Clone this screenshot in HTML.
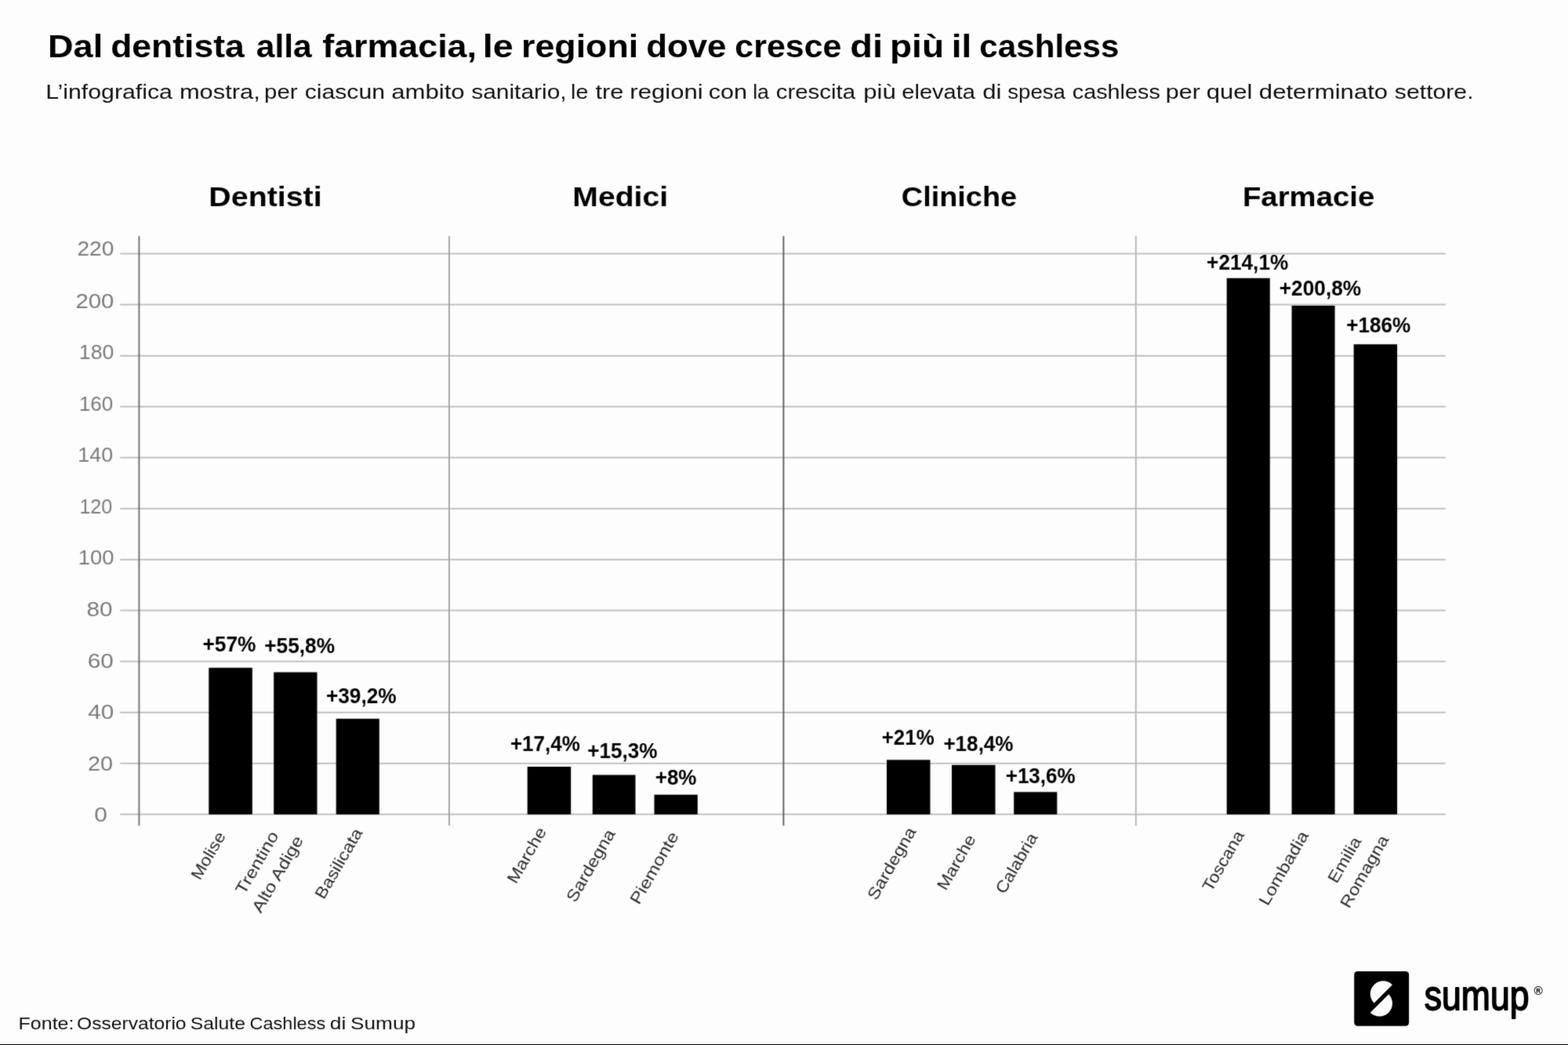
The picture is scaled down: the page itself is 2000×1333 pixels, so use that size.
<!DOCTYPE html>
<html lang="it">
<head>
<meta charset="utf-8">
<title>Dal dentista alla farmacia, le regioni dove cresce di più il cashless</title>
<style>
html,body{margin:0;padding:0;background:#fdfdfd;}
body{width:2000px;height:1333px;overflow:hidden;font-family:'Liberation Sans', Arial, Helvetica, sans-serif;}
svg{display:block;position:absolute;left:0;top:0;font-family:'Liberation Sans', Arial, Helvetica, sans-serif;}
text{white-space:pre;}
</style>
</head>
<body>
<svg width="2000" height="1333" viewBox="0 0 2000 1333" role="img" aria-label="Grafico a barre: crescita della spesa cashless per ambito sanitario e regione">
<rect x="0" y="0" width="2000" height="1333" fill="#fdfdfd"/>
<defs><filter id="soft" filterUnits="userSpaceOnUse" x="0" y="0" width="2000" height="1333" color-interpolation-filters="sRGB"><feConvolveMatrix order="3" kernelMatrix="0.0225 0.1050 0.0225 0.1050 0.4900 0.1050 0.0225 0.1050 0.0225" divisor="1" edgeMode="duplicate" preserveAlpha="false"/></filter><filter id="crisp" filterUnits="userSpaceOnUse" x="0" y="0" width="2000" height="1333" color-interpolation-filters="sRGB"><feConvolveMatrix order="3" kernelMatrix="0.0100 0.0800 0.0100 0.0800 0.6400 0.0800 0.0100 0.0800 0.0100" divisor="1" edgeMode="duplicate" preserveAlpha="false"/></filter></defs>
<g id="chart" filter="url(#soft)">
<g id="grid" fill="#bbbbbb">
<rect x="153.2" y="322.70" width="1690.6" height="1.8"/>
<rect x="153.2" y="387.70" width="1690.6" height="1.8"/>
<rect x="153.2" y="453.00" width="1690.6" height="1.8"/>
<rect x="153.2" y="517.80" width="1690.6" height="1.8"/>
<rect x="153.2" y="582.80" width="1690.6" height="1.8"/>
<rect x="153.2" y="647.90" width="1690.6" height="1.8"/>
<rect x="153.2" y="712.90" width="1690.6" height="1.8"/>
<rect x="153.2" y="777.70" width="1690.6" height="1.8"/>
<rect x="153.2" y="842.80" width="1690.6" height="1.8"/>
<rect x="153.2" y="907.90" width="1690.6" height="1.8"/>
<rect x="153.2" y="972.90" width="1690.6" height="1.8"/>
<rect x="153.2" y="1037.80" width="1690.6" height="1.8"/>
</g>
<g id="axes">
<rect x="176.50" y="301.2" width="1.8" height="752.0" fill="#686868"/>
<rect x="572.00" y="301.2" width="1.8" height="752.0" fill="#9e9e9e"/>
<rect x="998.50" y="301.2" width="1.8" height="752.0" fill="#565656"/>
<rect x="1447.90" y="301.2" width="1.8" height="752.0" fill="#b4b4b4"/>
</g>
<g id="ylabels">
<text x="98.49" y="325.85" font-size="25.4" font-weight="normal" fill="#7a7a7a" textLength="46.91" lengthAdjust="spacingAndGlyphs">220</text>
<text x="96.53" y="393.05" font-size="25.4" font-weight="normal" fill="#7a7a7a" textLength="48.92" lengthAdjust="spacingAndGlyphs">200</text>
<text x="100.87" y="458.35" font-size="25.4" font-weight="normal" fill="#7a7a7a" textLength="44.47" lengthAdjust="spacingAndGlyphs">180</text>
<text x="100.92" y="523.55" font-size="25.4" font-weight="normal" fill="#7a7a7a" textLength="43.29" lengthAdjust="spacingAndGlyphs">160</text>
<text x="99.35" y="589.45" font-size="25.4" font-weight="normal" fill="#7a7a7a" textLength="44.79" lengthAdjust="spacingAndGlyphs">140</text>
<text x="101.38" y="655.05" font-size="25.4" font-weight="normal" fill="#7a7a7a" textLength="42.00" lengthAdjust="spacingAndGlyphs">120</text>
<text x="99.72" y="720.35" font-size="25.4" font-weight="normal" fill="#7a7a7a" textLength="45.65" lengthAdjust="spacingAndGlyphs">100</text>
<text x="110.41" y="785.85" font-size="25.4" font-weight="normal" fill="#7a7a7a" textLength="33.05" lengthAdjust="spacingAndGlyphs">80</text>
<text x="111.70" y="851.55" font-size="25.4" font-weight="normal" fill="#7a7a7a" textLength="33.05" lengthAdjust="spacingAndGlyphs">60</text>
<text x="112.21" y="916.95" font-size="25.4" font-weight="normal" fill="#7a7a7a" textLength="33.05" lengthAdjust="spacingAndGlyphs">40</text>
<text x="111.95" y="982.55" font-size="25.4" font-weight="normal" fill="#7a7a7a" textLength="31.97" lengthAdjust="spacingAndGlyphs">20</text>
<text x="120.24" y="1047.85" font-size="25.4" font-weight="normal" fill="#7a7a7a" textLength="16.53" lengthAdjust="spacingAndGlyphs">0</text>
</g>
<g id="bars" fill="#000">
<rect x="266.3" y="851.8" width="55.5" height="187.0"/>
<rect x="349.2" y="857.5" width="55.3" height="181.3"/>
<rect x="428.7" y="916.8" width="55.1" height="122.0"/>
<rect x="672.7" y="978.0" width="55.5" height="60.8"/>
<rect x="755.8" y="988.5" width="54.7" height="50.3"/>
<rect x="834.5" y="1013.7" width="55.3" height="25.1"/>
<rect x="1131.0" y="969.3" width="55.5" height="69.5"/>
<rect x="1214.0" y="975.8" width="55.5" height="63.0"/>
<rect x="1293.2" y="1010.3" width="55.1" height="28.5"/>
<rect x="1564.7" y="354.8" width="55.1" height="684.0"/>
<rect x="1647.6" y="389.9" width="55.0" height="648.9"/>
<rect x="1726.7" y="439.2" width="55.4" height="599.6"/>
</g>
<g id="values">
<text x="258.39" y="831.45" font-size="26.8" font-weight="bold" fill="#000" textLength="68.10" lengthAdjust="spacingAndGlyphs">+57%</text>
<text x="337.20" y="833.35" font-size="26.8" font-weight="bold" fill="#000" textLength="89.80" lengthAdjust="spacingAndGlyphs">+55,8%</text>
<text x="415.90" y="896.95" font-size="26.8" font-weight="bold" fill="#000" textLength="89.80" lengthAdjust="spacingAndGlyphs">+39,2%</text>
<text x="650.91" y="957.85" font-size="26.8" font-weight="bold" fill="#000" textLength="89.08" lengthAdjust="spacingAndGlyphs">+17,4%</text>
<text x="749.20" y="967.35" font-size="26.8" font-weight="bold" fill="#000" textLength="89.28" lengthAdjust="spacingAndGlyphs">+15,3%</text>
<text x="835.71" y="1000.95" font-size="26.8" font-weight="bold" fill="#000" textLength="52.78" lengthAdjust="spacingAndGlyphs">+8%</text>
<text x="1124.71" y="949.95" font-size="26.8" font-weight="bold" fill="#000" textLength="66.97" lengthAdjust="spacingAndGlyphs">+21%</text>
<text x="1203.40" y="957.55" font-size="26.8" font-weight="bold" fill="#000" textLength="89.18" lengthAdjust="spacingAndGlyphs">+18,4%</text>
<text x="1282.71" y="999.45" font-size="26.8" font-weight="bold" fill="#000" textLength="88.98" lengthAdjust="spacingAndGlyphs">+13,6%</text>
<text x="1539.10" y="344.45" font-size="26.8" font-weight="bold" fill="#000" textLength="104.19" lengthAdjust="spacingAndGlyphs">+214,1%</text>
<text x="1631.70" y="376.65" font-size="26.8" font-weight="bold" fill="#000" textLength="104.50" lengthAdjust="spacingAndGlyphs">+200,8%</text>
<text x="1717.20" y="424.45" font-size="26.8" font-weight="bold" fill="#000" textLength="82.09" lengthAdjust="spacingAndGlyphs">+186%</text>
</g>
<g id="heads">
<text x="266.37" y="263.0" font-size="34.7" font-weight="bold" fill="#000" textLength="144.22" lengthAdjust="spacingAndGlyphs">Dentisti</text>
<text x="730.38" y="263.0" font-size="34.7" font-weight="bold" fill="#000" textLength="121.69" lengthAdjust="spacingAndGlyphs">Medici</text>
<text x="1149.85" y="263.0" font-size="34.7" font-weight="bold" fill="#000" textLength="147.25" lengthAdjust="spacingAndGlyphs">Cliniche</text>
<text x="1584.93" y="263.0" font-size="34.7" font-weight="bold" fill="#000" textLength="168.38" lengthAdjust="spacingAndGlyphs">Farmacie</text>
</g>
<g id="xlabels" font-size="20.8" fill="#2a2a2a">
<text transform="translate(255.90,1122.25) rotate(-60)" x="-1.89" y="0" textLength="66.67" lengthAdjust="spacingAndGlyphs">Molise</text>
<text transform="translate(311.85,1142.15) rotate(-60)" x="0.00" y="0" textLength="88.37" lengthAdjust="spacingAndGlyphs">Trentino</text>
<text transform="translate(332.85,1165.75) rotate(-60)" x="-0.05" y="0" textLength="109.12" lengthAdjust="spacingAndGlyphs">Alto Adige</text>
<text transform="translate(413.85,1146.70) rotate(-60)" x="-1.92" y="0" textLength="100.02" lengthAdjust="spacingAndGlyphs">Basilicata</text>
<text transform="translate(659.25,1126.90) rotate(-60)" x="-1.93" y="0" textLength="78.58" lengthAdjust="spacingAndGlyphs">Marche</text>
<text transform="translate(734.30,1151.30) rotate(-60)" x="-1.08" y="0" textLength="103.08" lengthAdjust="spacingAndGlyphs">Sardegna</text>
<text transform="translate(815.85,1153.45) rotate(-60)" x="-1.91" y="0" textLength="102.80" lengthAdjust="spacingAndGlyphs">Piemonte</text>
<text transform="translate(1118.20,1148.60) rotate(-60)" x="-1.08" y="0" textLength="103.08" lengthAdjust="spacingAndGlyphs">Sardegna</text>
<text transform="translate(1207.45,1135.45) rotate(-60)" x="-1.91" y="0" textLength="77.64" lengthAdjust="spacingAndGlyphs">Marche</text>
<text transform="translate(1281.90,1140.60) rotate(-60)" x="-1.16" y="0" textLength="85.36" lengthAdjust="spacingAndGlyphs">Calabria</text>
<text transform="translate(1545.25,1137.95) rotate(-60)" x="-0.51" y="0" textLength="85.11" lengthAdjust="spacingAndGlyphs">Toscana</text>
<text transform="translate(1618.00,1154.80) rotate(-60)" x="-1.97" y="0" textLength="105.47" lengthAdjust="spacingAndGlyphs">Lombadia</text>
<text transform="translate(1705.90,1126.45) rotate(-60)" x="-1.93" y="0" textLength="64.03" lengthAdjust="spacingAndGlyphs">Emilia</text>
<text transform="translate(1721.65,1157.95) rotate(-60)" x="-1.94" y="0" textLength="102.74" lengthAdjust="spacingAndGlyphs">Romagna</text>
</g>
</g>
<g id="page" filter="url(#crisp)">
<text id="title" y="73.0" font-size="40.2" font-weight="bold" fill="#000"><tspan x="61.09" textLength="82.62" lengthAdjust="spacingAndGlyphs">Dal </tspan><tspan x="141.18" textLength="182.90" lengthAdjust="spacingAndGlyphs">dentista </tspan><tspan x="326.75" textLength="82.80" lengthAdjust="spacingAndGlyphs">alla </tspan><tspan x="411.23" textLength="209.22" lengthAdjust="spacingAndGlyphs">farmacia, </tspan><tspan x="615.75" textLength="51.79" lengthAdjust="spacingAndGlyphs">le </tspan><tspan x="665.05" textLength="161.55" lengthAdjust="spacingAndGlyphs">regioni </tspan><tspan x="824.20" textLength="114.48" lengthAdjust="spacingAndGlyphs">dove </tspan><tspan x="937.32" textLength="148.08" lengthAdjust="spacingAndGlyphs">cresce </tspan><tspan x="1084.20" textLength="54.86" lengthAdjust="spacingAndGlyphs">di </tspan><tspan x="1134.96" textLength="81.87" lengthAdjust="spacingAndGlyphs">più </tspan><tspan x="1213.80" textLength="38.16" lengthAdjust="spacingAndGlyphs">il </tspan><tspan x="1249.35" textLength="178.18" lengthAdjust="spacingAndGlyphs">cashless</tspan></text>
<text id="subtitle" y="126.35" font-size="26.6" font-weight="normal" fill="#111"><tspan x="58.31" textLength="170.10" lengthAdjust="spacingAndGlyphs">L’infografica </tspan><tspan x="228.95" textLength="111.39" lengthAdjust="spacingAndGlyphs">mostra, </tspan><tspan x="337.11" textLength="50.52" lengthAdjust="spacingAndGlyphs">per </tspan><tspan x="388.72" textLength="110.62" lengthAdjust="spacingAndGlyphs">ciascun </tspan><tspan x="499.29" textLength="102.05" lengthAdjust="spacingAndGlyphs">ambito </tspan><tspan x="601.17" textLength="129.85" lengthAdjust="spacingAndGlyphs">sanitario, </tspan><tspan x="728.08" textLength="30.11" lengthAdjust="spacingAndGlyphs">le </tspan><tspan x="759.54" textLength="44.36" lengthAdjust="spacingAndGlyphs">tre </tspan><tspan x="803.31" textLength="102.06" lengthAdjust="spacingAndGlyphs">regioni </tspan><tspan x="903.70" textLength="57.78" lengthAdjust="spacingAndGlyphs">con </tspan><tspan x="960.20" textLength="28.23" lengthAdjust="spacingAndGlyphs">la </tspan><tspan x="989.75" textLength="109.42" lengthAdjust="spacingAndGlyphs">crescita </tspan><tspan x="1101.22" textLength="50.18" lengthAdjust="spacingAndGlyphs">più </tspan><tspan x="1150.37" textLength="101.70" lengthAdjust="spacingAndGlyphs">elevata </tspan><tspan x="1253.28" textLength="32.87" lengthAdjust="spacingAndGlyphs">di </tspan><tspan x="1285.23" textLength="81.45" lengthAdjust="spacingAndGlyphs">spesa </tspan><tspan x="1367.78" textLength="120.07" lengthAdjust="spacingAndGlyphs">cashless </tspan><tspan x="1486.73" textLength="52.55" lengthAdjust="spacingAndGlyphs">per </tspan><tspan x="1538.67" textLength="67.48" lengthAdjust="spacingAndGlyphs">quel </tspan><tspan x="1605.84" textLength="172.96" lengthAdjust="spacingAndGlyphs">determinato </tspan><tspan x="1778.86" textLength="100.70" lengthAdjust="spacingAndGlyphs">settore.</tspan></text>
<text id="source" y="1313.45" font-size="22.5" font-weight="normal" fill="#111"><tspan x="23.60" textLength="77.83" lengthAdjust="spacingAndGlyphs">Fonte: </tspan><tspan x="98.14" textLength="146.23" lengthAdjust="spacingAndGlyphs">Osservatorio </tspan><tspan x="242.88" textLength="76.88" lengthAdjust="spacingAndGlyphs">Salute </tspan><tspan x="318.61" textLength="103.06" lengthAdjust="spacingAndGlyphs">Cashless </tspan><tspan x="420.84" textLength="27.81" lengthAdjust="spacingAndGlyphs">di </tspan><tspan x="447.11" textLength="82.89" lengthAdjust="spacingAndGlyphs">Sumup</tspan></text>
<g id="logo">
<rect x="1727.25" y="1238.9" width="69.9" height="69.75" rx="4.2" fill="#000"/>
<clipPath id="halfA"><rect x="1745.77" y="1249.30" width="37.00" height="18.50" transform="rotate(-45 1764.27 1267.8)"/></clipPath>
<clipPath id="halfB"><rect x="1741.04" y="1279.97" width="37.00" height="18.50" transform="rotate(-45 1759.54 1279.97)"/></clipPath>
<circle cx="1764.27" cy="1267.8" r="16.5" fill="#fdfdfd" clip-path="url(#halfA)"/>
<circle cx="1759.54" cy="1279.97" r="16.5" fill="#fdfdfd" clip-path="url(#halfB)"/>
<text x="1816.81" y="1287.6999999999998" font-size="54" font-weight="normal" fill="#000" textLength="133.66" lengthAdjust="spacingAndGlyphs" stroke="#000" stroke-width="1.8" stroke-linejoin="round" stroke-linecap="round">sumup</text>
<text x="1956.46" y="1268.9" font-size="14.6" font-weight="bold" fill="#000" textLength="11.27" lengthAdjust="spacingAndGlyphs">®</text>
</g>
</g>
<rect x="0" y="1332" width="2000" height="1" fill="#000"/>
</svg>
</body>
</html>
